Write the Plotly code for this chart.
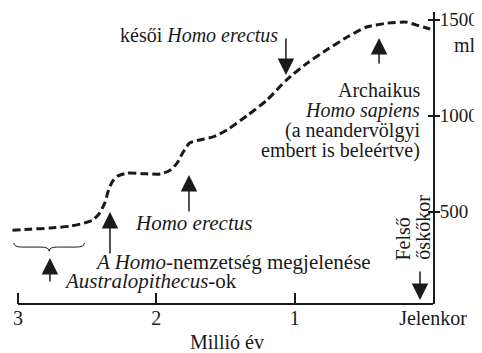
import plotly.graph_objects as go

# brain volume curve (age in million years, volume in ml)
age_myr = [3.04, 2.91, 2.77, 2.62, 2.52, 2.46, 2.41, 2.37, 2.35, 2.32, 2.28, 2.21,
           2.10, 1.97, 1.90, 1.85, 1.81, 1.76, 1.69, 1.59, 1.49, 1.34, 1.20, 1.06,
           0.91, 0.77, 0.62, 0.48, 0.33, 0.19, 0.12, 0.07, 0.02]
brain_ml = [404, 409, 415, 425, 441, 456, 493, 550, 602, 654, 685, 701,
            698, 696, 716, 753, 805, 857, 873, 889, 925, 1002, 1081, 1185,
            1273, 1341, 1409, 1461, 1481, 1486, 1471, 1461, 1450]

x_ticks = [3, 2, 1, 0]
x_labels = ["3", "2", "1", "Jelenkor"]
y_ticks = [500, 1000, 1500]

FONT = "Liberation Serif"
INK = "#1a1a1a"

fig = go.Figure()
fig.add_trace(go.Scatter(
    x=age_myr, y=brain_ml, mode="lines",
    line=dict(color=INK, width=3, dash="8px,4px", shape="spline", smoothing=0.6),
    hoverinfo="skip", showlegend=False,
))

# arrows: (x, y tip, y tail)
arrows = [
    (1.063, 1211, 1409),   # késői Homo erectus (down)
    (0.39, 1404, 1263),    # archaikus
    (1.764, 691, 493),     # Homo erectus
    (2.335, 498, 275),     # Homo nemzetség
    (2.769, 259, 129),     # Australopithecus
    (0.094, 41, 197),      # felső őskőkor (down)
]
for ax_, tip, tail in arrows:
    fig.add_annotation(x=ax_, y=tip, ax=ax_, ay=tail, xref="x", yref="y",
                       axref="x", ayref="y", text="", showarrow=True,
                       arrowhead=2, arrowsize=2.2, arrowwidth=1.5, arrowcolor=INK)

def label(text, x, y, xanchor="left", yanchor="middle", angle=0, size=20):
    fig.add_annotation(x=x, y=y, xref="x", yref="y", text=text, showarrow=False,
                       xanchor=xanchor, yanchor=yanchor, textangle=angle,
                       font=dict(family=FONT, size=size, color=INK))

label("késői <i>Homo erectus</i>", 1.106, 1419, xanchor="right")
label("Archaikus", 0.079, 1133, xanchor="right")
label("<i>Homo sapiens</i>", 0.079, 1029, xanchor="right")
label("(a neandervölgyi", 0.079, 925, xanchor="right")
label("embert is beleértve)", 0.079, 821, xanchor="right")
label("<i>Homo erectus</i>", 2.169, 441, size=21)
label("<i>A Homo</i>-nemzetség megjelenése", 2.458, 240, size=21)
label("<i>Australopithecus</i>-ok", 2.682, 142, size=21)
label("Felső", 0.217, 238, xanchor="center", yanchor="bottom", angle=-90)
label("őskőkor", 0.079, 238, xanchor="center", yanchor="bottom", angle=-90)
fig.add_annotation(x=0, y=1367, xref="x", yref="y", text="ml", showarrow=False,
                   xanchor="left", xshift=19, font=dict(family=FONT, size=20, color=INK))
fig.add_annotation(x=1.489, y=-0.13, xref="x", yref="paper", text="Millió év",
                   yanchor="middle", showarrow=False,
                   font=dict(family=FONT, size=20, color=INK))

# brace under Australopithecus plateau
bx0, bx1 = 3.03, 2.52
bxc = (bx0 + bx1) / 2
d = 0.06
y_top, y_mid, y_tip = 337, 316, 295
brace = (f"M {bx0},{y_top} Q {bx0},{y_mid} {bx0 - d},{y_mid} "
         f"L {bxc + d},{y_mid} Q {bxc},{y_mid} {bxc},{y_tip} "
         f"Q {bxc},{y_mid} {bxc - d},{y_mid} L {bx1 + d},{y_mid} "
         f"Q {bx1},{y_mid} {bx1},{y_top}")
fig.add_shape(type="path", path=brace, xref="x", yref="y",
              line=dict(color=INK, width=1))

# x axis line from 3 to present
fig.add_shape(type="line", x0=3, x1=0, y0=0, y1=0, xref="x", yref="y domain",
              line=dict(color=INK, width=2))

# page body adds an 8px offset, so the figure is 8px smaller on each side
fig.update_layout(
    width=474, height=345,
    margin=dict(l=3, r=49, t=4, b=49, autoexpand=False),
    paper_bgcolor="white", plot_bgcolor="white",
    font=dict(family=FONT, size=20, color=INK),
    xaxis=dict(range=[3.0506, 0], tickvals=x_ticks, ticktext=x_labels,
               ticks="inside", ticklen=11, tickwidth=2, tickcolor=INK,
               showgrid=False, zeroline=False, showline=False, automargin=False,
               tickfont=dict(family=FONT, size=20, color=INK)),
    yaxis=dict(range=[19.8, 1539], side="right", tickvals=y_ticks,
               ticks="outside", ticklen=5, tickwidth=2, tickcolor=INK,
               ticklabelstandoff=-4,
               showline=True, linecolor=INK, linewidth=2, automargin=False,
               showgrid=False, zeroline=False,
               tickfont=dict(family=FONT, size=19, color=INK)),
    yaxis2=dict(range=[19.8, 1539], side="right", overlaying="y", tickvals=y_ticks,
                ticks="inside", ticklen=5, tickwidth=2, tickcolor=INK, automargin=False,
                showticklabels=False, showgrid=False, zeroline=False, showline=False),
)
fig.add_trace(go.Scatter(x=[None], y=[None], yaxis="y2", showlegend=False))

fig.write_html("out.html")
